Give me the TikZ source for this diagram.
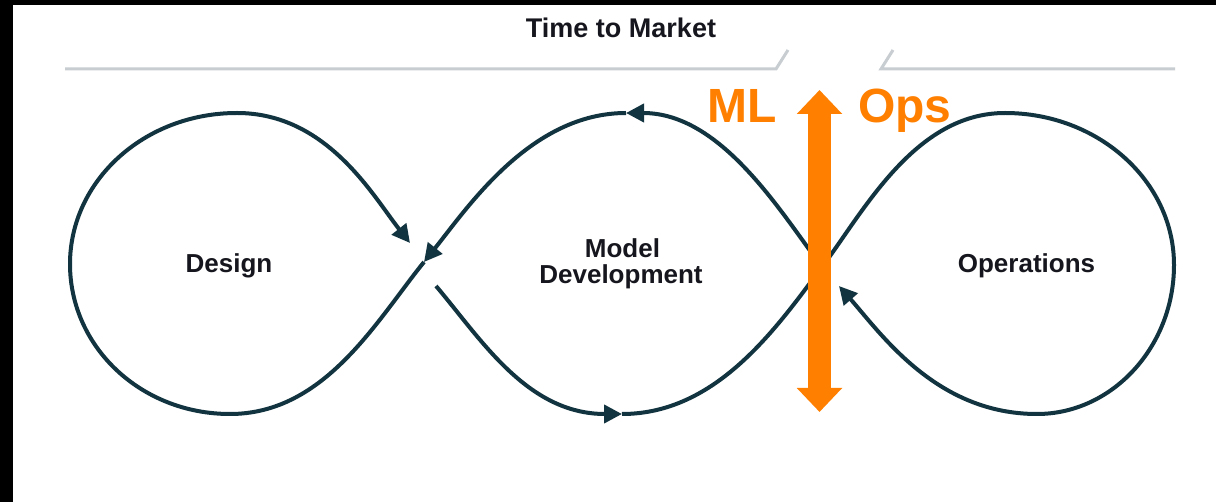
\documentclass[tikz,border=0pt]{standalone}
\usepackage{fontspec}
\setmainfont{Liberation Sans}
\usetikzlibrary{arrows.meta}
\definecolor{loopc}{RGB}{18,52,64}
\definecolor{mlorange}{RGB}{255,128,0}
\definecolor{rulegray}{RGB}{200,205,210}
\definecolor{labelc}{RGB}{22,22,30}
\begin{document}
\begin{tikzpicture}[x=1pt,y=-1pt,
  lobe/.style={draw=loopc, line width=4pt},
  flowtip/.style={-{Triangle[length=18pt,width=18pt]}},
  lbl/.style={font=\fontsize{26}{30}\selectfont\bfseries, text=labelc, inner sep=0pt, anchor=base},
  mltext/.style={font=\fontsize{48}{52}\selectfont\bfseries, text=mlorange, inner sep=0pt},
  graybar/.style={draw=rulegray, line width=3pt},
  bigarrow/.style={draw=mlorange, line width=23pt, {Triangle[length=24pt,width=44pt]}-{Triangle[length=24pt,width=44pt]}}]
\useasboundingbox (0,0) rectangle (1216,502);
\fill[black] (0,0) rectangle (1216,502);
\fill[white] (12.5,5) rectangle (1216,502);

% top rule
\coordinate (g1) at (65,69);
\coordinate (g2) at (776,69);
\coordinate (g3) at (788,50);
\coordinate (g4) at (893,50);
\coordinate (g5) at (881,69);
\coordinate (g6) at (1175,69);
\draw[graybar] (g1) -- (g2) -- (g3);
\draw[graybar] (g4) -- (g5) -- (g6);
\node[lbl, font=\fontsize{27}{31}\selectfont\bfseries] (title) at (621,38) {Time to Market};

% key points
\coordinate (C1) at (424,262);
\coordinate (C2) at (822,267);
\coordinate (T1) at (237,113);
\coordinate (L1) at (70,264);
\coordinate (B1) at (230,414);
\coordinate (T2) at (626,113);
\coordinate (B2) at (622,414);
\coordinate (T3) at (1005,113);
\coordinate (R3) at (1174,265);
\coordinate (B3) at (1037,414);
\coordinate (A1) at (410,243);
\coordinate (D1) at (436,286);
\coordinate (A3) at (839,286);

% loops
\draw[lobe,flowtip] (C2) .. controls (780,211) and (721,113) .. (T2);
\draw[lobe,flowtip] (T2) .. controls (531,113) and (468,207) .. (C1);
\draw[lobe,flowtip] (C1) .. controls (377,320) and (325,414) .. (B1)
  .. controls (141,414) and (70,347) .. (L1)
  .. controls (70,181) and (144,113) .. (T1)
  .. controls (327,113) and (373,196) .. (A1);
\draw[lobe,flowtip] (D1) .. controls (481,339) and (527,414) .. (B2);
\draw[lobe,flowtip] (B2) .. controls (717,414) and (777,327) .. (C2)
  .. controls (864,211) and (915,113) .. (T3)
  .. controls (1098,113) and (1174,181) .. (R3)
  .. controls (1174,347) and (1112,414) .. (B3)
  .. controls (937,414) and (882,335) .. (A3);

% labels
\node[lbl] (design) at (229,273) {Design};
\node[lbl] (mdl1) at (622.5,258) {Model};
\node[lbl] (mdl2) at (621,284) {Development};
\node[lbl] (opsl) at (1026.5,273) {Operations};

% ML / Ops arrow
\coordinate (otop) at (819.5,90);
\coordinate (obot) at (819.5,412);
\draw[bigarrow] (otop) -- (obot);
\node[mltext, anchor=base] (ml) at (742,123) {ML};
\node[mltext, anchor=base west] (opstxt) at (858,123) {Ops};
\end{tikzpicture}
\end{document}
